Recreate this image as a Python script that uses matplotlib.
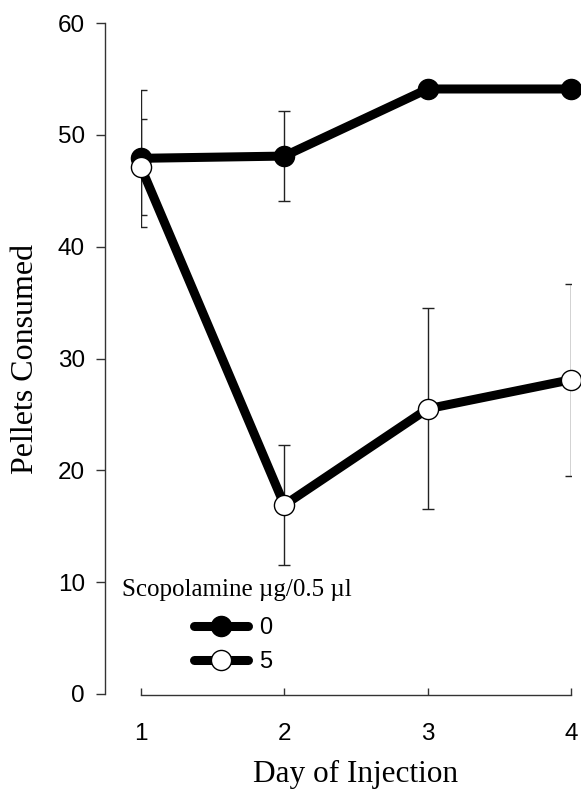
import matplotlib
matplotlib.use("Agg")
import matplotlib.pyplot as plt

days = [1, 2, 3, 4]
dose0_mean = [47.9, 48.1, 54.1, 54.1]
dose0_err = [6.1, 4.0, 0.0, 0.0]
dose5_mean = [47.1, 16.9, 25.5, 28.1]
dose5_err = [4.3, 5.4, 9.0, 8.6]
legend_title = "Scopolamine \u00b5g/0.5 \u00b5l"
series_labels = ["0", "5"]

W, H = 581, 796
fig = plt.figure(figsize=(W / 100, H / 100), dpi=100)
ax = fig.add_axes([141 / W, 1 - 694 / H, 430 / W, 671 / H])

serif = "Liberation Serif"
sans = "Liberation Sans"

lw = 6.5
ms = 14.5
for means, errs, face, lab in [(dose0_mean, dose0_err, "black", series_labels[0]),
                               (dose5_mean, dose5_err, "white", series_labels[1])]:
    ax.errorbar(days, means, yerr=errs, fmt="none", ecolor="#222222", elinewidth=1.0,
                capsize=4.5, capthick=1.0, zorder=2)
    ax.plot(days, means, color="black", linewidth=lw, marker="o", markersize=ms,
            markerfacecolor=face, markeredgecolor="black", markeredgewidth=1.0,
            label=lab, zorder=3, solid_capstyle="round", clip_on=False)

ax.set_xlim(1, 4)
ax.set_ylim(0, 60)
ax.set_xticks(days)
ax.set_yticks(range(0, 61, 10))

for s in ["top", "right"]:
    ax.spines[s].set_visible(False)
ax.spines["left"].set_position(("outward", 26))
ax.spines["bottom"].set_position(("outward", 1))
for s in ["left", "bottom"]:
    ax.spines[s].set_linewidth(1.0)
    ax.spines[s].set_color("#333333")

ax.tick_params(axis="x", direction="in", length=5, width=1, pad=20, colors="#333333",
               labelcolor="black", labelsize=17.5)
ax.tick_params(axis="y", direction="out", length=6.5, width=1, pad=8, colors="#333333",
               labelcolor="black", labelsize=17.5)
for t in ax.get_xticklabels() + ax.get_yticklabels():
    t.set_fontfamily(sans)

ax.set_xlabel("Day of Injection", fontsize=22.5, fontfamily=serif)
ax.set_ylabel("Pellets Consumed", fontsize=23, fontfamily=serif)
ax.xaxis.set_label_coords(0.5, -0.098)
ax.yaxis.set_label_coords(-0.235, 0.5)

fig.text(122 / W, 1 - 590 / H, legend_title, fontsize=18, fontfamily=serif,
         ha="left", va="center")
leg = ax.legend(loc="upper left", bbox_to_anchor=(194 / W, 1 - 617 / H),
                bbox_transform=fig.transFigure, frameon=False, borderpad=0,
                borderaxespad=0, handlelength=2.3, handletextpad=0.45,
                labelspacing=0.5, numpoints=1, prop={"family": sans, "size": 17})

fig.savefig("out.png", dpi=100)
